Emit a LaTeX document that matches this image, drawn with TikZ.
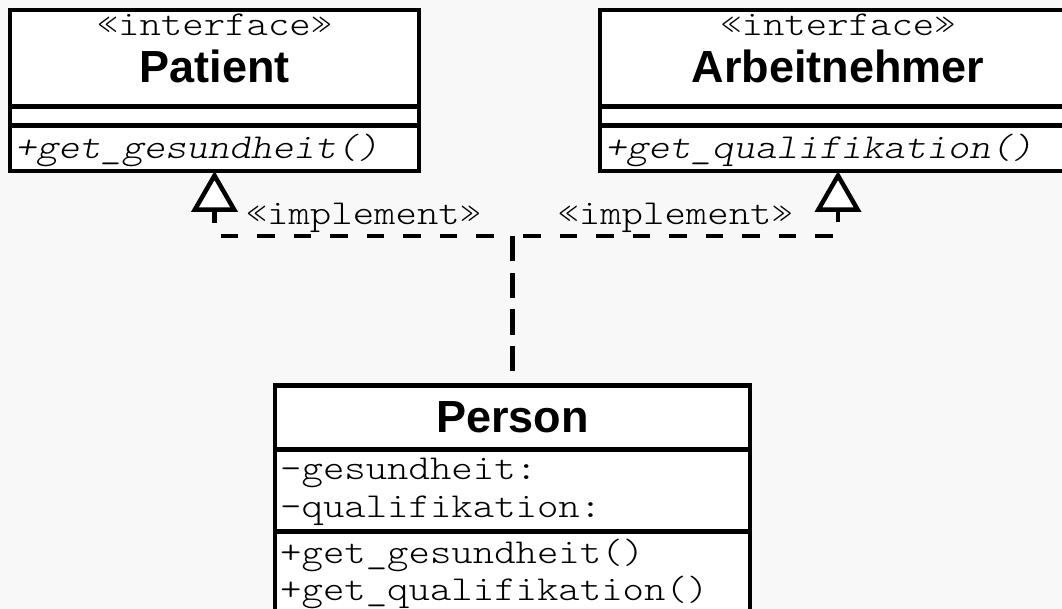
\documentclass[tikz,border=0pt]{standalone}
\usepackage{fontspec}
\usepackage{tikz}
\usetikzlibrary{arrows.meta,positioning}
\newfontfamily\umlmono[Extension=.otf,UprightFont=lmmonolt10-regular,ItalicFont=lmmonolt10-oblique,FakeStretch=1.165]{lmmonolt10-regular}
\newfontfamily\umlsans{Liberation Sans}
\definecolor{canvas}{RGB}{248,248,248}

\begin{document}
\begin{tikzpicture}[x=1pt,y=1pt,
  umlbox/.style={draw,fill=white,line width=4.5pt,inner sep=0pt,outer sep=0pt},
  membertext/.style={font=\umlmono\fontsize{35}{38}\selectfont,inner sep=0pt,anchor=base west},
  abstracttext/.style={font=\umlmono\itshape\fontsize{35}{38}\selectfont,inner sep=0pt,anchor=base west},
  stereo/.style={font=\umlmono\fontsize{35}{38}\selectfont,inner sep=0pt,anchor=base},
  classname/.style={font=\umlsans\bfseries\fontsize{45}{48}\selectfont,inner sep=0pt,anchor=base},
  realize/.style={line width=4.5pt,dash pattern=on 17.5pt off 19pt},
  realtip/.style={-{Triangle[open,fill=white,length=41pt,width=46pt]}},
  tag/.style={font=\umlmono\fontsize{35}{38}\selectfont,inner sep=0pt,anchor=base,yshift=11pt}]
\useasboundingbox (0,0) rectangle (1062,-609);
\fill[canvas] (0,0) rectangle (1062,-609);
\clip (0,0) rectangle (1062,-609);

\node[umlbox,minimum width=409pt,minimum height=96.5pt](patient)at(214.5,-58.25){};
\node[umlbox,minimum width=409pt,minimum height=19pt,below=0pt of patient](patientattr){};
\node[umlbox,minimum width=409pt,minimum height=45.5pt,below=0pt of patientattr](patientops){};
\node[stereo](patientstereo)at([yshift=-26pt]patient.north){«interface»};
\node[classname](patientname)at([yshift=-73pt]patient.north){Patient};
\node[abstracttext](patientop)at([xshift=5pt,yshift=-33.5pt]patientops.north west){+get\_gesundheit()};

\node[umlbox,minimum width=476pt,minimum height=96.5pt](arbeit)at(838,-58.25){};
\node[umlbox,minimum width=476pt,minimum height=19pt,below=0pt of arbeit](arbeitattr){};
\node[umlbox,minimum width=476pt,minimum height=45.5pt,below=0pt of arbeitattr](arbeitops){};
\node[stereo](arbeitstereo)at([yshift=-26pt]arbeit.north){«interface»};
\node[classname](arbeitname)at([yshift=-73pt]arbeit.north){Arbeitnehmer};
\node[abstracttext](arbeitop)at([xshift=5pt,yshift=-33.5pt]arbeitops.north west){+get\_qualifikation()};

\node[umlbox,minimum width=475pt,minimum height=64pt](person)at(512.5,-417.5){};
\node[umlbox,minimum width=475pt,minimum height=82pt,below=0pt of person](personattr){};
\node[umlbox,minimum width=475pt,minimum height=120pt,below=0pt of personattr](personops){};
\node[classname](personname)at([yshift=-46.5pt]person.north){Person};
\node[membertext](personattrA)at([xshift=5pt,yshift=-29.5pt]personattr.north west){-gesundheit:};
\node[membertext](personattrB)at([xshift=5pt,yshift=-67.5pt]personattr.north west){-qualifikation:};
\node[membertext](personopA)at([xshift=5pt,yshift=-31.5pt]personops.north west){+get\_gesundheit()};
\node[membertext](personopB)at([xshift=5pt,yshift=-68.5pt]personops.north west){+get\_qualifikation()};

\coordinate(junction)at(person.north|-0,-236);
\draw[realize,dash pattern=on 25pt off 11.5pt,dash phase=22pt](person.north)--(junction);
\draw[realize,realtip,dash phase=17.5pt](junction)-|(patientops.south) node[tag,pos=0.25](leftlabel){«implement»};
\draw[realize,realtip,dash phase=26pt](junction)-|(arbeitops.south) node[tag,pos=0.25](rightlabel){«implement»};
\end{tikzpicture}
\end{document}
